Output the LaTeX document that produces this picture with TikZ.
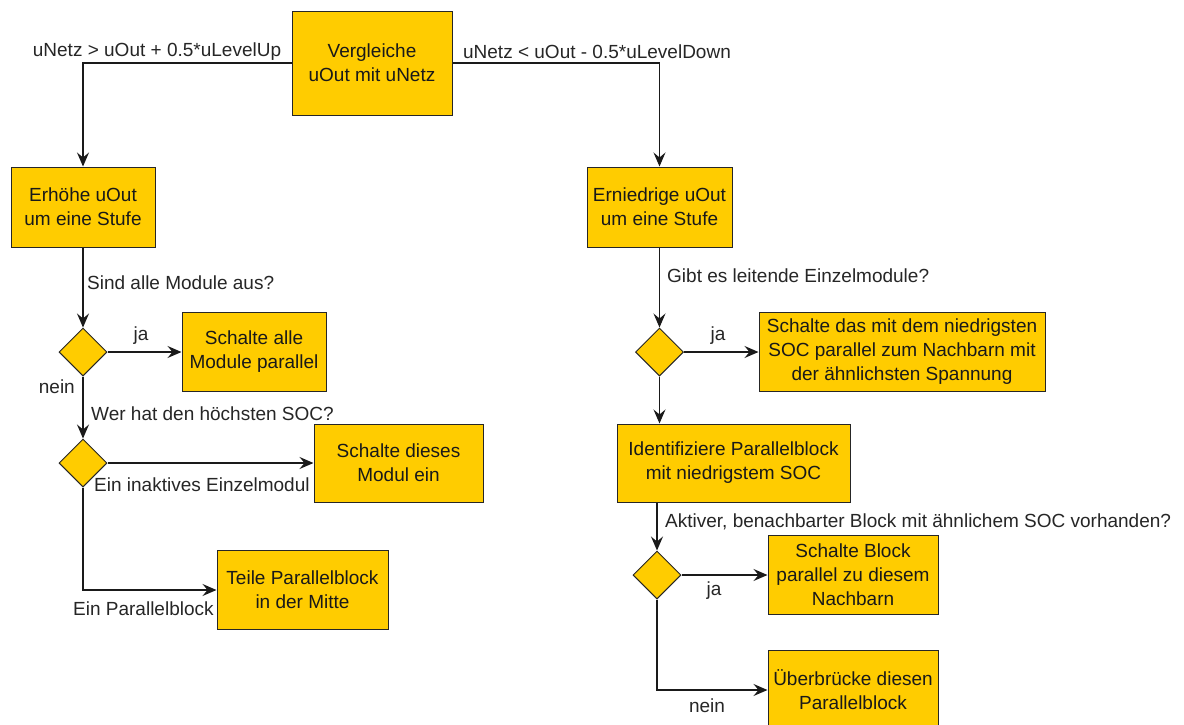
\documentclass[tikz,border=0pt]{standalone}
\usepackage{fontspec}
\setmainfont{Liberation Sans}
\usetikzlibrary{shapes.geometric,arrows.meta}
\definecolor{boxyellow}{HTML}{FFCC00}
\definecolor{edgegray}{HTML}{1A1A1A}
\begin{document}
\begin{tikzpicture}[
  x=1pt, y=-1pt,
  every node/.style={font=\fontsize{19}{24}\selectfont},
  box/.style={draw=black!85, fill=boxyellow, line width=1pt, inner sep=0pt,
              align=center, text=black!90},
  decision/.style={diamond, draw=black!85, fill=boxyellow, line width=1pt,
              inner sep=0pt, minimum width=48pt, minimum height=48pt, shape aspect=1},
  lbl/.style={inner sep=0pt, text=black!85},
  arr/.style={draw=edgegray, line width=1.2pt,
              -{Stealth[length=14pt,width=12pt,inset=5pt]}}
]
\fill[white] (0,0) rectangle (1184,724);
\useasboundingbox (0,0) rectangle (1184,724);

% process boxes
\node[box, minimum width=160pt, minimum height=104pt] (cmp) at (372,63)
  {Vergleiche\\uOut mit uNetz};
\node[box, minimum width=144pt, minimum height=80pt] (up) at (83,207)
  {Erhöhe uOut\\um eine Stufe};
\node[box, minimum width=145pt, minimum height=80pt] (down) at (659.5,207)
  {Erniedrige uOut\\um eine Stufe};
\node[box, minimum width=144pt, minimum height=79pt] (allpar) at (254,352)
  {Schalte alle\\Module parallel};
\node[box, minimum width=169pt, minimum height=78pt] (modon) at (398.5,463)
  {Schalte dieses\\Modul ein};
\node[box, minimum width=171pt, minimum height=79pt] (split) at (302.5,590)
  {Teile Parallelblock\\in der Mitte};
\node[box, minimum width=286pt, minimum height=79pt] (neighbor) at (902,352)
  {Schalte das mit dem niedrigsten\\SOC parallel zum Nachbarn mit\\der ähnlichsten Spannung};
\node[box, minimum width=233pt, minimum height=78pt] (ident) at (733.5,463)
  {Identifiziere Parallelblock\\mit niedrigstem SOC};
\node[box, minimum width=170pt, minimum height=79pt] (blockpar) at (853,575)
  {Schalte Block\\parallel zu diesem\\Nachbarn};
\node[box, minimum width=170pt, minimum height=79pt] (bypass) at (853,690)
  {Überbrücke diesen\\Parallelblock};

% decisions
\node[decision] (d1) at (83,352) {};
\node[decision] (d2) at (83,463) {};
\node[decision] (d3) at (659.5,352) {};
\node[decision] (d4) at (657,575) {};

% connectors
\draw[arr] (cmp.west) -| (up.north);
\draw[arr] (cmp.east) -| (down.north);
\draw[arr] (up.south) -- (d1.north);
\draw[arr] (d1.east) -- (allpar.west);
\draw[arr] (d1.south) -- (d2.north);
\draw[arr] (d2.east) -- (modon.west);
\draw[arr] (d2.south) |- (split.west);
\draw[arr] (down.south) -- (d3.north);
\draw[arr] (d3.east) -- (neighbor.west);
\draw[arr] (d3.south) -- (d3.south |- ident.north);
\draw[arr] (ident.south -| d4.north) -- (d4.north);
\draw[arr] (d4.east) -- (blockpar.west);
\draw[arr] (d4.south) |- (bypass.west);

% connector labels
\node[lbl] (lup) at (157,52) {uNetz > uOut + 0.5*uLevelUp};
\node[lbl] (ldown) at (597,52) {uNetz < uOut - 0.5*uLevelDown};
\node[lbl, anchor=west] (lq1) at (87,283) {Sind alle Module aus?};
\node[lbl] (lja1) at (141,336) {ja};
\node[lbl, anchor=east] (lnein1) at (75,387) {nein};
\node[lbl, anchor=west] (lq2) at (91,414) {Wer hat den höchsten SOC?};
\node[lbl, anchor=west] (lsingle) at (94,485) {Ein inaktives Einzelmodul};
\node[lbl, anchor=west] (lblock) at (73,609) {Ein Parallelblock};
\node[lbl, anchor=west] (lq3) at (667,276) {Gibt es leitende Einzelmodule?};
\node[lbl] (lja3) at (718,336) {ja};
\node[lbl, anchor=west] (lq4) at (665,522) {Aktiver, benachbarter Block mit ähnlichem SOC vorhanden?};
\node[lbl] (lja4) at (714,591) {ja};
\node[lbl] (lnein4) at (707,706) {nein};
\end{tikzpicture}
\end{document}
